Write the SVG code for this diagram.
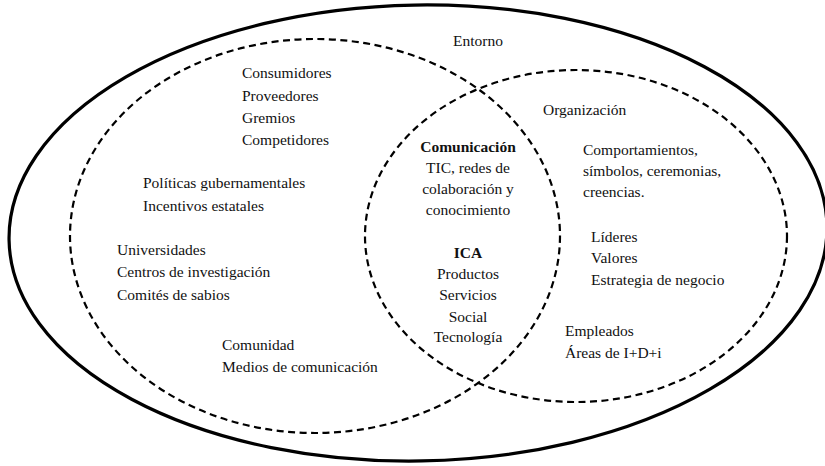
<svg xmlns="http://www.w3.org/2000/svg" width="825" height="466" viewBox="0 0 825 466">
<style>
.t{font-family:"Liberation Serif","Times New Roman",serif;font-size:15.5px;fill:#111}
.c{text-anchor:middle}
.b{font-weight:bold}
.outer{fill:none;stroke:#000;stroke-width:3.2}
.dash{fill:none;stroke:#000;stroke-width:2.2;stroke-dasharray:7 4.5}
</style>
<rect width="825" height="466" fill="#fff"/>
<g id="entorno">
<ellipse class="outer" cx="418" cy="233" rx="409" ry="228" transform="rotate(-1 418 233)"/>
<text class="t" x="453" y="46">Entorno</text>
</g>
<g id="externo">
<ellipse class="dash" cx="315" cy="236" rx="245" ry="197"/>
<text class="t" x="242" y="78">Consumidores</text>
<text class="t" x="242" y="101">Proveedores</text>
<text class="t" x="242" y="123">Gremios</text>
<text class="t" x="242" y="145">Competidores</text>
<text class="t" x="143" y="188">Políticas gubernamentales</text>
<text class="t" x="143" y="211">Incentivos estatales</text>
<text class="t" x="117" y="255">Universidades</text>
<text class="t" x="117" y="277">Centros de investigación</text>
<text class="t" x="117" y="300">Comités de sabios</text>
<text class="t" x="222" y="350">Comunidad</text>
<text class="t" x="222" y="372">Medios de comunicación</text>
</g>
<g id="organizacion">
<ellipse class="dash" cx="576" cy="236" rx="211" ry="166"/>
<text class="t" x="543" y="115">Organización</text>
<text class="t" x="583" y="155">Comportamientos,</text>
<text class="t" x="583" y="176">símbolos, ceremonias,</text>
<text class="t" x="583" y="197">creencias.</text>
<text class="t" x="591" y="242">Líderes</text>
<text class="t" x="591" y="263">Valores</text>
<text class="t" x="591" y="285">Estrategia de negocio</text>
<text class="t" x="565" y="336">Empleados</text>
<text class="t" x="565" y="358">Áreas de I+D+i</text>
</g>
<g id="interseccion">
<text class="t c b" x="468" y="152">Comunicación</text>
<text class="t c" x="468" y="173">TIC, redes de</text>
<text class="t c" x="468" y="194">colaboración y</text>
<text class="t c" x="468" y="215">conocimiento</text>
<text class="t c b" x="468" y="258">ICA</text>
<text class="t c" x="468" y="279">Productos</text>
<text class="t c" x="468" y="300">Servicios</text>
<text class="t c" x="468" y="322">Social</text>
<text class="t c" x="468" y="342">Tecnología</text>
</g>
<g id="connectors"></g>
</svg>
